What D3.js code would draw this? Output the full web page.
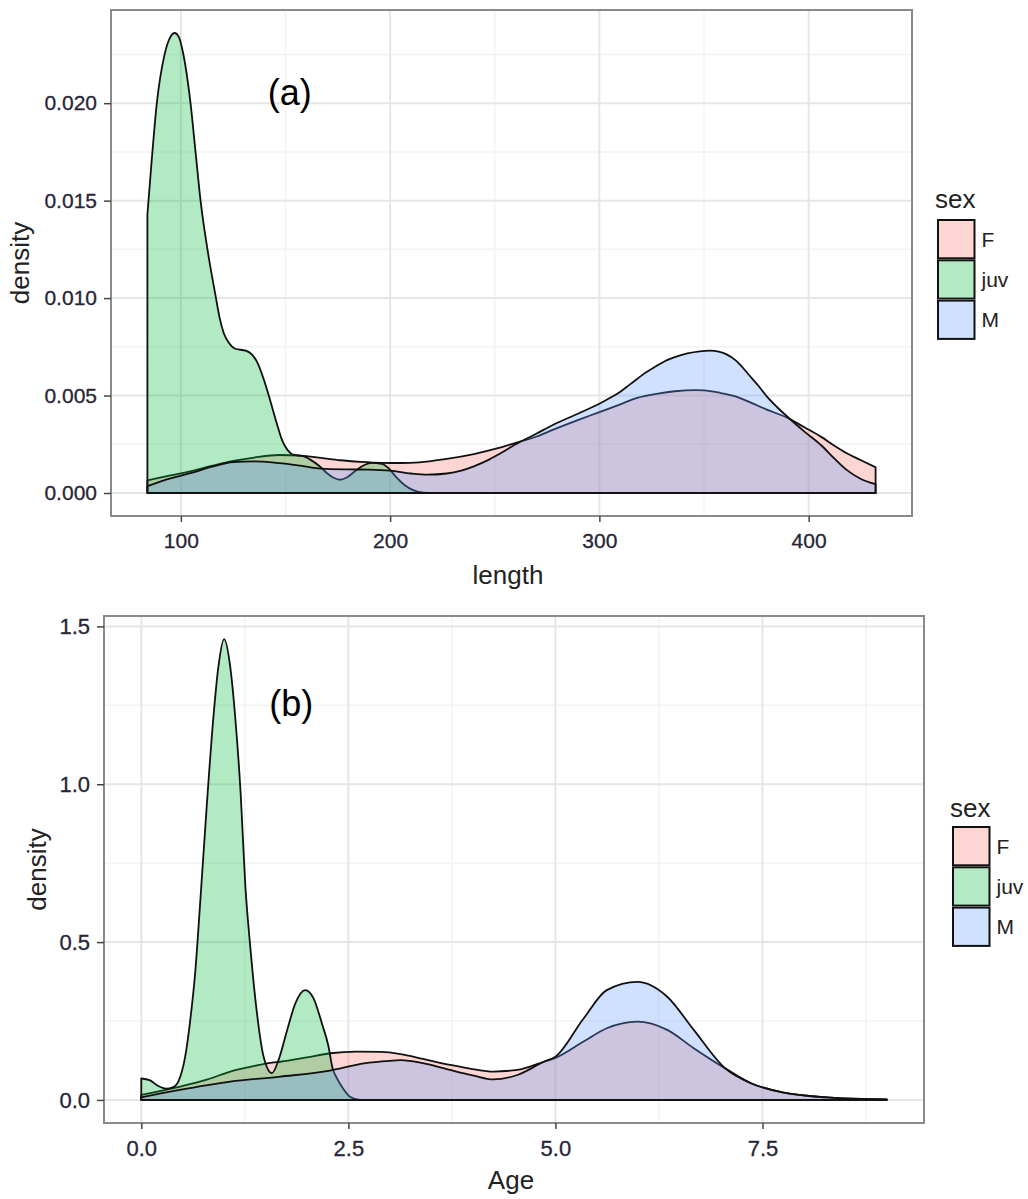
<!DOCTYPE html>
<html><head><meta charset="utf-8">
<script src="https://cdn.jsdelivr.net/npm/d3@7"></script>
<style>
body{margin:0;background:#fff}
text{font-family:"Liberation Sans",Arial,sans-serif}
</style>
</head><body>
<svg id="chart" width="1028" height="1199"></svg>
<script>
// ---------- DATA ----------
const groups = ["F", "juv", "M"];
const groupColors = ["#F8766D", "#00BA38", "#619CFF"];

// Panel (a): density of length, [length, density]
const lengthF = [[84,0.00065],[95,0.00090],[105,0.00112],[115,0.00140],[125,0.00165],[135,0.00182],[147,0.00195],[157,0.00192],[167,0.00180],[176,0.00168],[186,0.00160],[196,0.00155],[205,0.00154],[214,0.00157],[227,0.00175],[240,0.00200],[252,0.00231],[260,0.00257],[270,0.00290],[278,0.00325],[290,0.00375],[299,0.00411],[310,0.00455],[318,0.00488],[328,0.00510],[336,0.00522],[346,0.00528],[350,0.00527],[358,0.00513],[366,0.00492],[371,0.00470],[380,0.00428],[390,0.00385],[398,0.00337],[406,0.00288],[412,0.00245],[418,0.00205],[425,0.00168],[432,0.00132]];
const lengthJuv = [[84,0.0143],[86,0.0170],[88.5,0.0200],[92,0.0224],[95,0.0234],[97,0.0236],[99,0.0234],[101,0.0226],[104.6,0.0200],[107,0.0175],[109.4,0.0150],[113,0.0123],[116.6,0.0101],[118.5,0.0090],[120.5,0.0082],[123,0.0077],[126,0.0074],[131,0.0073],[134,0.0071],[136.5,0.0067],[139.7,0.0058],[142,0.0050],[145.2,0.0038],[148.4,0.0027],[151,0.0022],[154,0.00195],[158,0.0019],[162,0.0017],[166,0.0014],[170,0.0010],[173,0.00078],[176,0.00068],[179,0.00078],[183,0.0011],[187,0.0014],[191,0.00155],[196,0.0015],[199,0.0013],[203,0.0008],[207,0.0004],[211,0.00015],[216,0.00002],[222,0],[300,0],[432,0]];
const lengthM = [[84,0.00035],[95,0.00075],[105,0.00103],[115,0.00135],[125,0.00159],[135,0.00162],[147,0.00153],[157,0.00140],[167,0.00125],[180,0.00121],[190,0.00120],[200,0.00115],[210,0.00100],[218,0.00094],[227,0.00100],[234,0.00115],[240,0.00137],[247,0.00170],[253,0.00205],[260,0.00250],[270,0.00305],[278,0.00350],[290,0.00408],[299,0.00453],[305,0.00487],[310,0.00520],[314,0.00552],[318,0.00585],[322,0.00617],[327,0.00650],[331,0.00675],[336,0.00697],[342,0.00716],[348,0.00727],[353,0.00730],[357,0.00725],[361,0.00710],[365,0.00682],[368,0.00650],[371,0.00612],[376,0.00550],[380,0.00496],[385,0.00440],[390,0.00390],[398,0.00315],[406,0.00245],[412,0.00180],[418,0.00120],[425,0.00072],[432,0.00045]];
const lengthTicks = [100, 200, 300, 400];
const lengthDensityTicks = [0, 0.005, 0.010, 0.015, 0.020];

// Panel (b): density of Age, [age, density]
const ageF = [[0,0.016],[0.43,0.040],[0.8,0.065],[1.075,0.090],[1.3,0.104],[1.58,0.118],[1.68,0.121],[2.0,0.135],[2.28,0.148],[2.6,0.153],[2.9,0.152],[3.13,0.145],[3.4,0.130],[3.73,0.111],[4.0,0.098],[4.25,0.090],[4.54,0.095],[4.86,0.121],[5.0,0.133],[5.34,0.185],[5.62,0.227],[5.99,0.248],[6.35,0.222],[6.67,0.164],[7.05,0.100],[7.36,0.053],[7.76,0.023],[8.28,0.008],[8.7,0.003],[9.0,0.002]];
const ageJuv = [[0,0.068],[0.1,0.063],[0.2,0.045],[0.3,0.036],[0.38,0.040],[0.45,0.060],[0.53,0.137],[0.59,0.250],[0.65,0.400],[0.71,0.620],[0.79,0.930],[0.87,1.210],[0.93,1.370],[1.0,1.460],[1.075,1.370],[1.135,1.210],[1.2,0.970],[1.256,0.680],[1.316,0.485],[1.397,0.274],[1.477,0.137],[1.578,0.085],[1.658,0.127],[1.76,0.220],[1.86,0.306],[1.98,0.348],[2.08,0.322],[2.18,0.243],[2.26,0.170],[2.31,0.100],[2.36,0.070],[2.44,0.035],[2.52,0.010],[2.64,0.0],[5.0,0],[9.0,0]];
const ageM = [[0,0.008],[0.43,0.030],[1.075,0.058],[1.68,0.074],[2.28,0.093],[2.69,0.116],[3.0,0.124],[3.13,0.126],[3.4,0.117],[3.73,0.095],[4.0,0.078],[4.25,0.065],[4.54,0.079],[4.86,0.121],[5.0,0.137],[5.34,0.258],[5.62,0.348],[5.99,0.374],[6.35,0.327],[6.67,0.222],[7.05,0.100],[7.36,0.053],[7.76,0.023],[8.28,0.008],[8.7,0.003],[9.0,0.002]];
const ageTicks = [0, 2.5, 5.0, 7.5];
const ageDensityTicks = [0, 0.5, 1.0, 1.5];

// ---------- DRAW ----------
const svg = d3.select("#chart");
svg.append("rect").attr("width",1028).attr("height",1199).attr("fill","#fff");

function minorBreaks(ticks) {
  const step = ticks[1] - ticks[0];
  const out = [];
  for (let i = -1; i < ticks.length; i++) out.push(ticks[0] + step * (i + 0.5));
  return out;
}

function drawPanel(o) {
  const g = svg.append("g");
  const all = o.series.flat();
  const xe = d3.extent(all, d => d[0]);
  const ymax = d3.max(all, d => d[1]);
  const xr = xe[1] - xe[0];
  const x = d3.scaleLinear().domain([xe[0] - 0.05 * xr, xe[1] + 0.05 * xr]).range([o.left, o.right]);
  const y = d3.scaleLinear().domain([-0.05 * ymax, 1.05 * ymax]).range([o.bottom, o.top]);
  const inX = v => v >= x.domain()[0] && v <= x.domain()[1];
  const inY = v => v >= y.domain()[0] && v <= y.domain()[1];

  // grid
  g.selectAll(".mx").data(minorBreaks(o.xTicks).filter(inX)).join("line")
    .attr("x1", d => x(d)).attr("x2", d => x(d)).attr("y1", o.top).attr("y2", o.bottom)
    .attr("stroke", "#F3F3F3").attr("stroke-width", 1.5);
  g.selectAll(".my").data(minorBreaks(o.yTicks).filter(inY)).join("line")
    .attr("y1", d => y(d)).attr("y2", d => y(d)).attr("x1", o.left).attr("x2", o.right)
    .attr("stroke", "#F3F3F3").attr("stroke-width", 1.5);
  g.selectAll(".Mx").data(o.xTicks).join("line")
    .attr("x1", d => x(d)).attr("x2", d => x(d)).attr("y1", o.top).attr("y2", o.bottom)
    .attr("stroke", "#E6E6E6").attr("stroke-width", 2);
  g.selectAll(".My").data(o.yTicks).join("line")
    .attr("y1", d => y(d)).attr("y2", d => y(d)).attr("x1", o.left).attr("x2", o.right)
    .attr("stroke", "#E6E6E6").attr("stroke-width", 2);

  // density areas
  const area = d3.area().x(d => x(d[0])).y0(y(0)).y1(d => y(d[1])).curve(d3.curveMonotoneX);
  o.series.forEach((s, i) => {
    g.append("path").attr("d", area(s) + "Z")
      .attr("fill", groupColors[i]).attr("fill-opacity", 0.3)
      .attr("stroke", "#111").attr("stroke-width", 1.8).attr("stroke-linejoin", "round");
  });

  // border
  g.append("rect").attr("x", o.left).attr("y", o.top)
    .attr("width", o.right - o.left).attr("height", o.bottom - o.top)
    .attr("fill", "none").attr("stroke", "#8a8a8a").attr("stroke-width", 2);

  // axes
  const ax = g.append("g").attr("transform", `translate(0,${o.bottom})`)
    .call(d3.axisBottom(x).tickValues(o.xTicks).tickFormat(d3.format(o.xFmt)).tickSize(6).tickPadding(11));
  const ay = g.append("g").attr("transform", `translate(${o.left},0)`)
    .call(d3.axisLeft(y).tickValues(o.yTicks).tickFormat(d3.format(o.yFmt)).tickSize(7).tickPadding(7));
  [ax, ay].forEach(a => {
    a.select(".domain").remove();
    a.selectAll(".tick line").attr("stroke", "#444").attr("stroke-width", 1.5);
    a.selectAll(".tick text").attr("fill", "#262636").style("font-size", o.tickFs + "px")
      .attr("stroke", "#262636").attr("stroke-width", 0.3)
      .style("font-family", '"Liberation Sans",Arial,sans-serif');
  });

  // axis titles
  g.append("text").attr("x", o.xTitleX).attr("y", o.xTitleY).attr("text-anchor", "middle")
    .attr("fill", "#222").style("font-size", "26px").text(o.xTitle);
  g.append("text").attr("transform", `translate(${o.yTitleX},${(o.top + o.bottom) / 2}) rotate(-90)`)
    .attr("text-anchor", "middle").attr("fill", "#222").style("font-size", "26px").text("density");

  // panel tag
  g.append("text").attr("x", x(o.tag.x)).attr("y", y(o.tag.y)).attr("text-anchor", "middle")
    .attr("fill", "#000").style("font-size", "36px").text(o.tag.label);

  // legend
  const lg = svg.append("g");
  lg.append("text").attr("x", o.legend.x - 2).attr("y", o.legend.titleY)
    .attr("fill", "#222").style("font-size", "26px").text("sex");
  const kh = 40.3, kw = 38.5;
  groups.forEach((k, i) => {
    const ky = o.legend.y + i * kh;
    lg.append("rect").attr("x", o.legend.x).attr("y", ky).attr("width", kw).attr("height", kh)
      .attr("fill", "#fff");
    lg.append("rect").attr("x", o.legend.x + 1).attr("y", ky + 1).attr("width", kw - 2).attr("height", kh - 2)
      .attr("fill", groupColors[i]).attr("fill-opacity", 0.3)
      .attr("stroke", "#111").attr("stroke-width", 2);
    lg.append("text").attr("x", o.legend.x + kw + 6).attr("y", ky + kh / 2 + 7.5)
      .attr("fill", "#222").style("font-size", "21px").text(k);
  });
}

drawPanel({
  series: [lengthF, lengthJuv, lengthM],
  left: 111, right: 912, top: 10, bottom: 516,
  xTicks: lengthTicks, yTicks: lengthDensityTicks, xFmt: "d", yFmt: ".3f", tickFs: 21,
  xTitle: "length", xTitleX: 508, xTitleY: 584, yTitleX: 29,
  tag: {label: "(a)", x: 152, y: 0.0199},
  legend: {x: 937, y: 219, titleY: 208}
});

drawPanel({
  series: [ageF, ageJuv, ageM],
  left: 104, right: 924, top: 616, bottom: 1123,
  xTicks: ageTicks, yTicks: ageDensityTicks, xFmt: ".1f", yFmt: ".1f", tickFs: 22,
  xTitle: "Age", xTitleX: 511, xTitleY: 1189, yTitleX: 46,
  tag: {label: "(b)", x: 1.81, y: 1.216},
  legend: {x: 952, y: 826, titleY: 817}
});
</script>
</body></html>
